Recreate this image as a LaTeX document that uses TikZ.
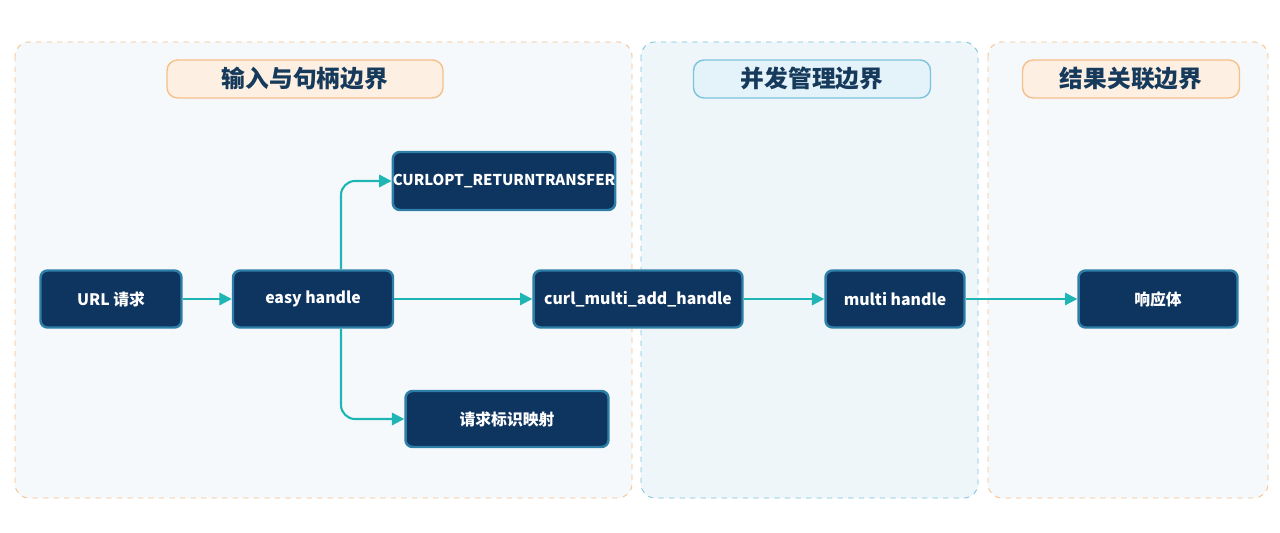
\documentclass[tikz,border=0pt]{standalone}
\usepackage{fontspec}
\setmainfont{Noto Sans CJK SC}
\usetikzlibrary{arrows.meta}
\definecolor{nodefill}{HTML}{0E3460}
\definecolor{nodeedge}{HTML}{2E7FA8}
\definecolor{linkcol}{HTML}{1FB5B5}
\definecolor{orangeedge}{HTML}{F5C08A}
\definecolor{orangefill}{HTML}{FDF0E3}
\definecolor{blueedge}{HTML}{7CC4DE}
\definecolor{bluefill}{HTML}{E4F3FA}
\definecolor{panelfill}{HTML}{F6F9FC}
\definecolor{midfill}{HTML}{EEF6FA}
\definecolor{titletext}{HTML}{163A5C}
\tikzset{
  box/.style={draw=nodeedge, line width=1.4pt, fill=nodefill, rounded corners=4pt,
    text=white, font=\bfseries\fontsize{9}{11}\selectfont, inner sep=0pt},
  panel/.style={dashed, line width=0.5pt, rounded corners=8pt},
  title/.style={line width=0.8pt, rounded corners=6pt, text=titletext,
    font=\bfseries\fontsize{13.5}{15}\selectfont, inner sep=0pt},
  link/.style={draw=linkcol, line width=1.2pt, -{Triangle[length=7pt,width=7pt]}, rounded corners=8pt}
}
\begin{document}
\begin{tikzpicture}[x=0.02cm,y=-0.02cm]
  \useasboundingbox[fill=white] (0,0) rectangle (1280,533);
  % boundaries
  \draw[panel, draw=orangeedge, fill=panelfill] (15,42) rectangle (632,498);
  \draw[panel, draw=blueedge, fill=midfill] (641,42) rectangle (978,498);
  \draw[panel, draw=orangeedge, fill=panelfill] (988,42) rectangle (1268,498);
  \node[title, draw=orangeedge, fill=orangefill, minimum width=5.52cm, minimum height=0.76cm] (t1) at (305,79) {输入与句柄边界};
  \node[title, draw=blueedge, fill=bluefill, minimum width=4.74cm, minimum height=0.76cm] (t2) at (812,79) {并发管理边界};
  \node[title, draw=orangeedge, fill=orangefill, minimum width=4.34cm, minimum height=0.76cm] (t3) at (1131,79) {结果关联边界};
  % nodes
  \node[box, minimum width=2.82cm, minimum height=1.14cm] (url) at (111,299) {URL 请求};
  \node[box, minimum width=3.2cm, minimum height=1.14cm] (easy) at (313,299) {easy handle};
  \node[box, minimum width=4.44cm, minimum height=1.16cm] (opt) at (504,181) {\fontsize{8.5}{10}\selectfont CURLOPT\_RETURNTRANSFER};
  \node[box, minimum width=4.06cm, minimum height=1.12cm] (map) at (507,419) {请求标识映射};
  \node[box, minimum width=4.18cm, minimum height=1.14cm] (add) at (638,299) {curl\_multi\_add\_handle};
  \node[box, minimum width=2.78cm, minimum height=1.14cm] (multi) at (895,299) {multi handle};
  \node[box, minimum width=3.18cm, minimum height=1.14cm] (resp) at (1158,299) {响应体};
  % connectors
  \draw[link] (url) -- (easy);
  \draw[link] (easy.north -| 341,0) |- (opt.west);
  \draw[link] (easy.south -| 341,0) |- (map.west);
  \draw[link] (easy) -- (add);
  \draw[link] (add) -- (multi);
  \draw[link] (multi) -- (resp);
\end{tikzpicture}
\end{document}
